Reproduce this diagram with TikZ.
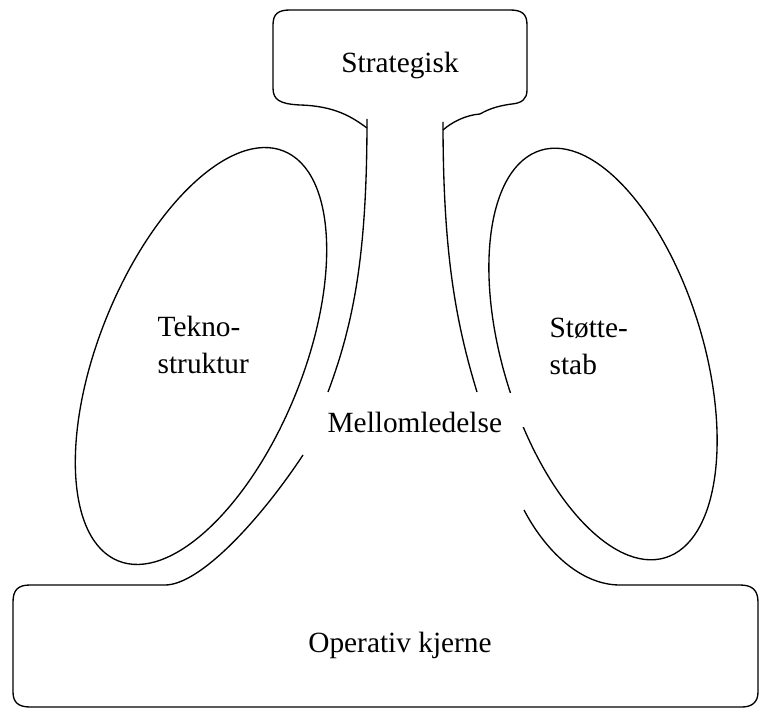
\documentclass[tikz,border=0pt]{standalone}
\usepackage{fontspec}
\setmainfont{Liberation Serif}
\begin{document}
\begin{tikzpicture}[x=0.75pt,y=0.75pt,line width=1pt,
  lbl/.style={font=\fontsize{22}{28}\selectfont, inner sep=0pt}]
\useasboundingbox (0,0) rectangle (760,-709);
% strategisk
\draw (367,-128) .. controls (352,-117) and (335,-106) .. (300,-105)
  .. controls (280,-104) and (273,-100) .. (273,-88) -- (273,-25)
  .. controls (273,-14) and (278,-10) .. (290,-10) -- (510,-10)
  .. controls (522,-10) and (527,-14) .. (527,-25) -- (527,-90)
  .. controls (527,-99) and (522,-103) .. (512,-104)
  .. controls (496,-106) and (487,-110) .. (480,-114)
  .. controls (466,-115) and (452,-122) .. (443,-130);
% midtlinje
\draw (367,-119) .. controls (367,-250) and (355,-320) .. (328,-392);
\draw (443,-122) .. controls (443,-250) and (455,-320) .. (477,-392);
% operativ kjerne
\draw (303,-455) .. controls (260,-520) and (200,-585) .. (165,-585) -- (30,-585)
  .. controls (18,-585) and (13,-590) .. (13,-602) -- (13,-692)
  .. controls (13,-702) and (18,-707) .. (30,-707) -- (742,-707)
  .. controls (752,-707) and (758,-702) .. (758,-692) -- (758,-602)
  .. controls (758,-590) and (752,-585) .. (740,-585) -- (620,-585)
  .. controls (580,-585) and (545,-550) .. (524,-510);
% stab
\draw[rotate around={-22:(201,-356)}] (201,-356) ellipse [x radius=102, y radius=221];
\draw[rotate around={17:(603,-354)}] (603,-354) ellipse [x radius=100, y radius=213];
\fill[white] (505,-393) rectangle (532,-427);

\node[lbl, anchor=base] (strat) at (400,-73) {Strategisk};
\node[lbl, align=left, anchor=north west] (tekno) at (157,-315) {Tekno-\\struktur};
\node[lbl, align=left, anchor=north west] (stab) at (549,-317) {Støtte-\\stab};
\node[lbl, anchor=base west] (mellom) at (327,-432) {Mellomledelse};
\node[lbl, anchor=base] (opkj) at (400,-652) {Operativ kjerne};
\end{tikzpicture}
\end{document}
